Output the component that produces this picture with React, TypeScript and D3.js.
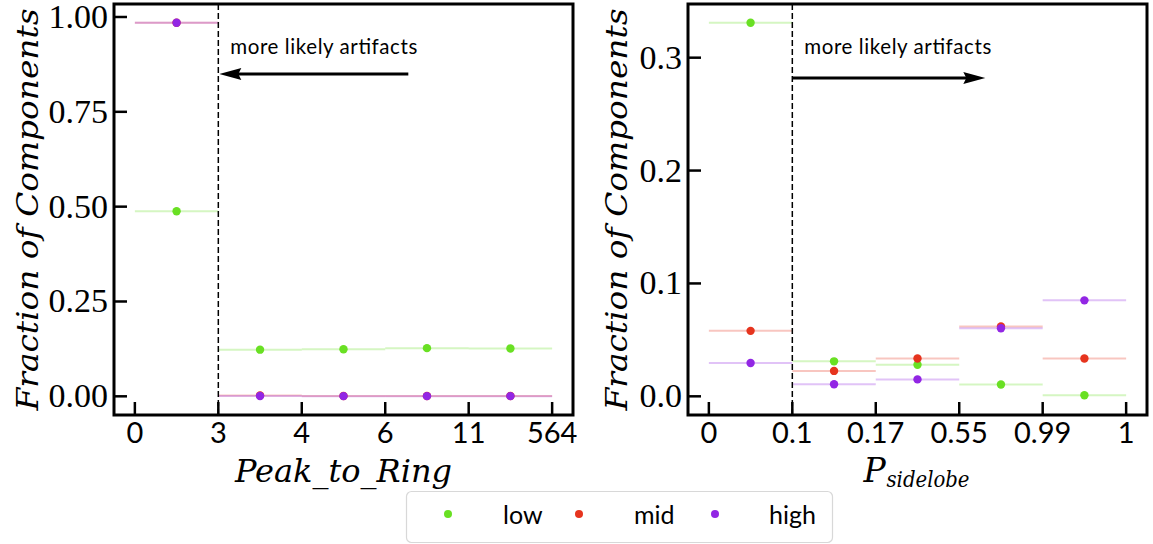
import React from 'react';
import * as d3 from 'd3';

const leftBinLabels = ['0', '3', '4', '6', '11', '564'];
const rightBinLabels = ['0', '0.1', '0.17', '0.55', '0.99', '1'];
const seriesNames = ['low', 'mid', 'high'];
const seriesColors = ['#69e023', '#e6341e', '#9226e4'];

const leftLow = [0.488, 0.123, 0.124, 0.127, 0.126];
const leftMid = [0.985, 0.002, 0.001, 0.001, 0.001];
const leftHigh = [0.985, 0.001, 0.0005, 0.0005, 0.0005];

const rightLow = [0.331, 0.031, 0.028, 0.0105, 0.001];
const rightMid = [0.058, 0.0225, 0.0335, 0.0618, 0.0335];
const rightHigh = [0.0295, 0.0107, 0.015, 0.0603, 0.085];

const leftYTicks = [0, 0.25, 0.5, 0.75, 1.0];
const rightYTicks = [0, 0.1, 0.2, 0.3];

const SERIF = '"Liberation Serif", serif';
const ISERIF = '"DejaVu Serif", serif';
const SANS = 'Lato, "Open Sans", "DejaVu Sans", sans-serif';

type PanelProps = {
  x0: number;
  binLabels: string[];
  series: number[][];
  yTicks: number[];
  yFmt: (v: number) => string;
  ylabelX: number;
  arrowDir: 'left' | 'right';
  xlabel: React.ReactNode;
};

function arrowHead(tipX: number, y: number, dir: number) {
  const L = 22;
  const H = 6;
  const n = 3;
  const bx = tipX - dir * L;
  return `M${tipX},${y} L${bx},${y - H} L${bx + dir * n},${y} L${bx},${y + H} Z`;
}

function Panel({ x0, binLabels, series, yTicks, yFmt, ylabelX, arrowDir, xlabel }: PanelProps) {
  const W = 459;
  const top = 4;
  const bottom = 415;
  const nb = binLabels.length - 1;
  const x = d3.scaleLinear().domain([-0.25, nb + 0.25]).range([x0, x0 + W]);
  const all = series.flat();
  const mn = Math.min(0, d3.min(all) as number);
  const mx = d3.max(all) as number;
  const m = (mx - mn) * 0.05;
  const y = d3.scaleLinear().domain([mn - m, mx + m]).range([bottom, top]);
  const tickLen = 13;
  const cut = x(1);
  const arrowY = arrowDir === 'left' ? 74 : 78;
  return (
    <g>
      {series.map((vals, si) => (
        <g key={'l' + si}>
          {vals.map((v, i) => (
            <line key={i} x1={x(i)} x2={x(i + 1)} y1={y(v)} y2={y(v)} stroke={seriesColors[si]} strokeOpacity={0.28} strokeWidth={2} />
          ))}
        </g>
      ))}
      {series.map((vals, si) => (
        <g key={'p' + si}>
          {vals.map((v, i) => (
            <circle key={i} cx={x(i + 0.5)} cy={y(v)} r={4.2} fill={seriesColors[si]} />
          ))}
        </g>
      ))}
      <line x1={cut} x2={cut} y1={top} y2={bottom} stroke="#000" strokeWidth={1.5} strokeDasharray="6,3" />
      <text x={cut + 12} y={54} fontFamily={SANS} fontSize={20.5} textLength={187} lengthAdjust="spacing" fill="#000">more likely artifacts</text>
      {arrowDir === 'left' ? (
        <g>
          <line x1={cut + 190} x2={cut + 18} y1={arrowY} y2={arrowY} stroke="#000" strokeWidth={3} />
          <path d={arrowHead(cut + 1, arrowY, -1)} fill="#000" />
        </g>
      ) : (
        <g>
          <line x1={cut} x2={cut + 176} y1={arrowY} y2={arrowY} stroke="#000" strokeWidth={3} />
          <path d={arrowHead(cut + 193, arrowY, 1)} fill="#000" />
        </g>
      )}
      {binLabels.map((lab, i) => (
        <g key={'xt' + i}>
          <line x1={x(i)} x2={x(i)} y1={bottom} y2={bottom - tickLen} stroke="#000" strokeWidth={2.5} />
          <text x={x(i)} y={443} textAnchor="middle" fontFamily={SANS} fontSize={29} fill="#000">{lab}</text>
        </g>
      ))}
      {yTicks.map((t, i) => (
        <g key={'yt' + i}>
          <line x1={x0} x2={x0 + tickLen} y1={y(t)} y2={y(t)} stroke="#000" strokeWidth={2.5} />
          <text x={x0 - 6} y={y(t) + 11} textAnchor="end" fontFamily={SERIF} fontSize={34} fill="#000">{yFmt(t)}</text>
        </g>
      ))}
      <rect x={x0} y={top} width={W} height={bottom - top} fill="none" stroke="#000" strokeWidth={3} />
      <text transform={`translate(${ylabelX},${(top + bottom) / 2}) rotate(-90)`} textAnchor="middle" fontFamily={ISERIF} fontStyle="italic" fontSize={30} textLength={402} lengthAdjust="spacingAndGlyphs" fill="#000">Fraction of Components</text>
      <g transform={`translate(${x0 + W / 2},482)`}>{xlabel}</g>
    </g>
  );
}

export default function App() {
  const fmt2 = d3.format('.2f');
  const fmt1 = d3.format('.1f');
  const legendX = [448, 579, 715];
  const legendTextX = [503, 634, 769];
  return (
    <svg width={1153} height={544} style={{ position: 'absolute', left: 0, top: 0, background: '#fff' }} xmlns="http://www.w3.org/2000/svg">
      <rect width={1153} height={544} fill="#fff" />
      <Panel
        x0={114}
        binLabels={leftBinLabels}
        series={[leftLow, leftMid, leftHigh]}
        yTicks={leftYTicks}
        yFmt={fmt2}
        ylabelX={38}
        arrowDir="left"
        xlabel={
          <text textAnchor="middle" fontFamily={ISERIF} fontStyle="italic" fontSize={31} textLength={217} lengthAdjust="spacingAndGlyphs" fill="#000">Peak_to_Ring</text>
        }
      />
      <Panel
        x0={688}
        binLabels={rightBinLabels}
        series={[rightLow, rightMid, rightHigh]}
        yTicks={rightYTicks}
        yFmt={fmt1}
        ylabelX={627}
        arrowDir="right"
        xlabel={
          <g>
            <text x={-54} textAnchor="start" fontFamily={ISERIF} fontStyle="italic" fontSize={33} fill="#000">P</text>
            <text x={-31} y={5} textAnchor="start" fontFamily={ISERIF} fontStyle="italic" fontSize={22} textLength={83} lengthAdjust="spacingAndGlyphs" fill="#000">sidelobe</text>
          </g>
        }
      />
      <rect x={406.5} y={491.5} width={426} height={51} rx={5} ry={5} fill="#fff" stroke="#d8d8d8" strokeWidth={1.2} />
      {seriesNames.map((name, i) => (
        <g key={name}>
          <circle cx={legendX[i]} cy={514} r={4} fill={seriesColors[i]} />
          <text x={legendTextX[i]} y={524} fontFamily={SANS} fontSize={25} fill="#000">{name}</text>
        </g>
      ))}
    </svg>
  );
}
